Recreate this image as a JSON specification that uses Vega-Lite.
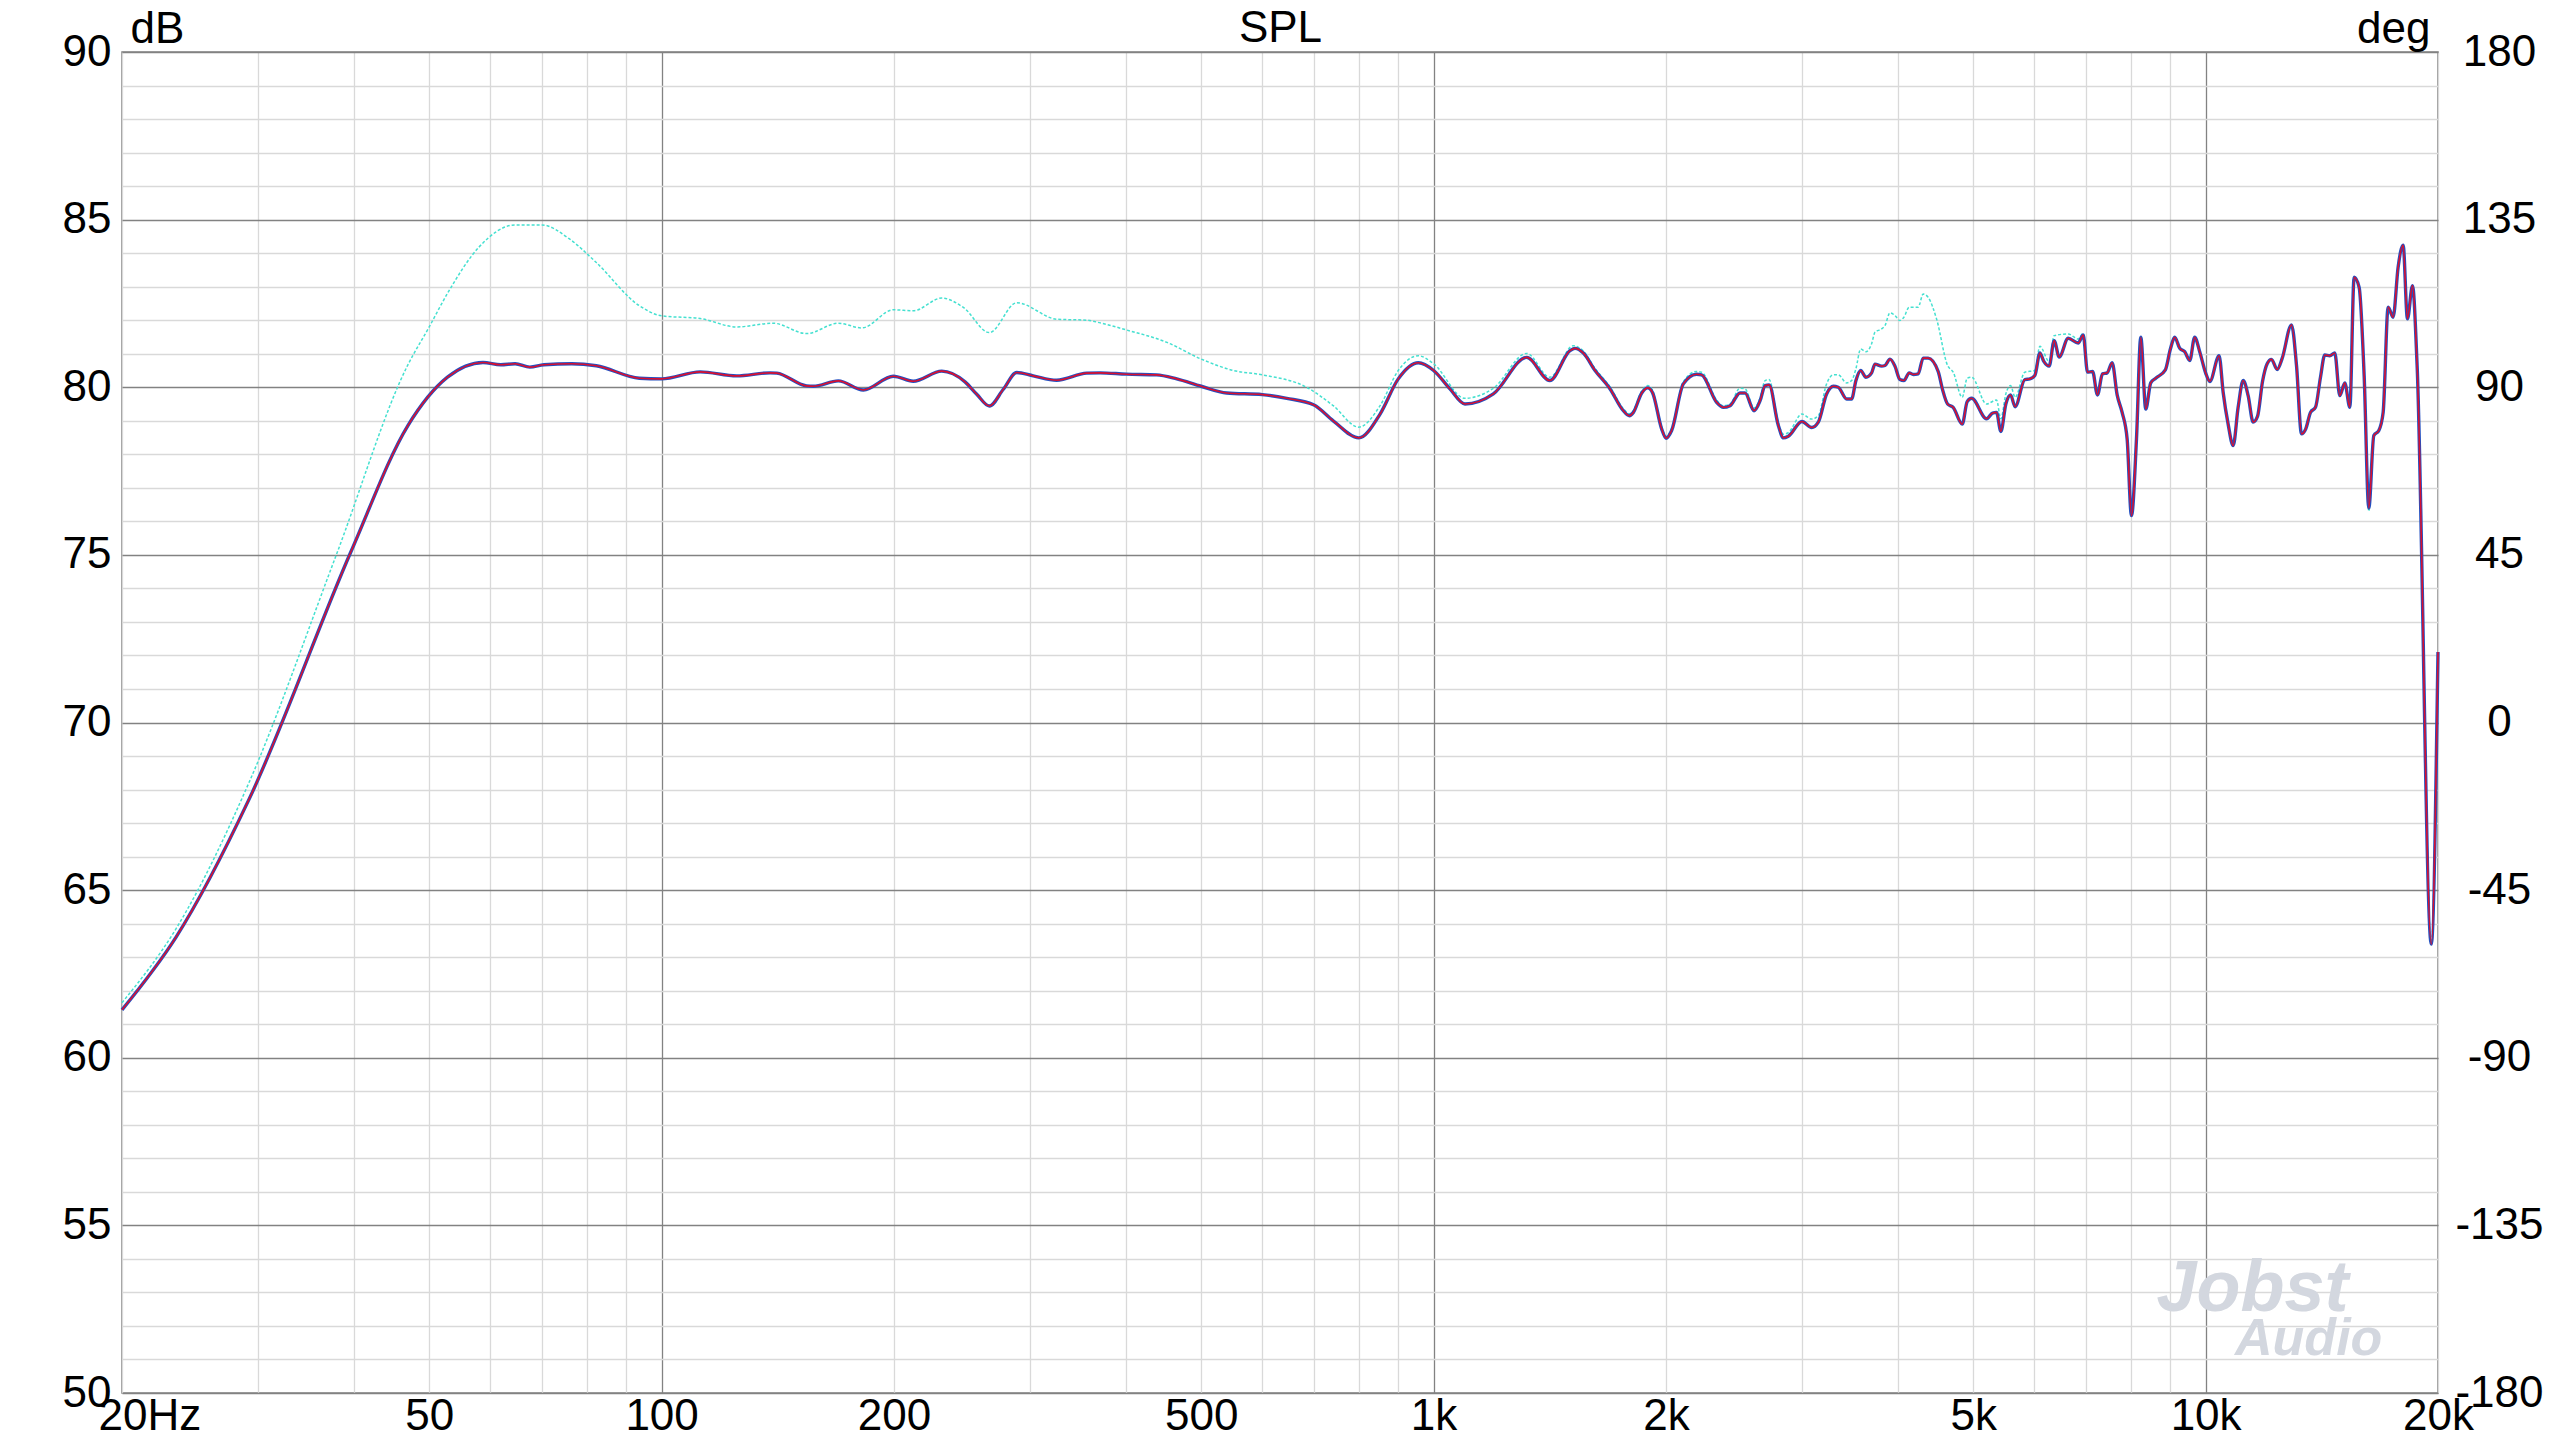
{
  "$schema": "https://vega.github.io/schema/vega-lite/v6.json",
  "width": 2316,
  "height": 1341,
  "autosize": {"type": "none"},
  "padding": {"left": 122, "top": 52, "right": 116, "bottom": 42},
  "background": "white",
  "config": {
    "font": "Liberation Sans",
    "view": {"stroke": "#808080", "strokeWidth": 1.5},
    "axis": {
      "labelFont": "Liberation Sans",
      "labelFontSize": 44,
      "labelColor": "black",
      "titleFont": "Liberation Sans",
      "titleFontSize": 44,
      "titleFontWeight": "normal",
      "titleColor": "black"
    }
  },
  "datasets": {
    "main": [
      {"freq": 20, "db": 61.43}, {"freq": 23.5, "db": 63.6}, {"freq": 29.2, "db": 67.7},
      {"freq": 39.6, "db": 75.1}, {"freq": 46.9, "db": 78.85}, {"freq": 52.8, "db": 80.3},
      {"freq": 58.7, "db": 80.74}, {"freq": 61.9, "db": 80.67}, {"freq": 64.6, "db": 80.7},
      {"freq": 67.5, "db": 80.6}, {"freq": 70.4, "db": 80.67}, {"freq": 76.5, "db": 80.7},
      {"freq": 82.3, "db": 80.64}, {"freq": 93.6, "db": 80.27}, {"freq": 100, "db": 80.25},
      {"freq": 112.2, "db": 80.46}, {"freq": 125.1, "db": 80.34}, {"freq": 138.2, "db": 80.43},
      {"freq": 141, "db": 80.42}, {"freq": 154.1, "db": 80.04}, {"freq": 157.2, "db": 80.03},
      {"freq": 169.4, "db": 80.19}, {"freq": 182.5, "db": 79.92}, {"freq": 199.6, "db": 80.33},
      {"freq": 211.8, "db": 80.18}, {"freq": 230.6, "db": 80.48}, {"freq": 247.2, "db": 80.16},
      {"freq": 256, "db": 79.79}, {"freq": 265.8, "db": 79.44}, {"freq": 277.1, "db": 79.94},
      {"freq": 288.4, "db": 80.44}, {"freq": 303, "db": 80.34}, {"freq": 324.9, "db": 80.21},
      {"freq": 355.3, "db": 80.42}, {"freq": 369.9, "db": 80.43}, {"freq": 400, "db": 80.39},
      {"freq": 437.7, "db": 80.37}, {"freq": 464.8, "db": 80.25}, {"freq": 500, "db": 80.03},
      {"freq": 539.6, "db": 79.83}, {"freq": 600, "db": 79.78}, {"freq": 645.3, "db": 79.67},
      {"freq": 700, "db": 79.47}, {"freq": 741.3, "db": 79.0}, {"freq": 800, "db": 78.49},
      {"freq": 852.4, "db": 79.2}, {"freq": 900, "db": 80.25}, {"freq": 955.5, "db": 80.73},
      {"freq": 1000, "db": 80.5}, {"freq": 1050, "db": 79.95}, {"freq": 1098, "db": 79.5},
      {"freq": 1195, "db": 79.8}, {"freq": 1320, "db": 80.89}, {"freq": 1414, "db": 80.2},
      {"freq": 1502, "db": 81.09}, {"freq": 1524.5, "db": 81.16}, {"freq": 1563, "db": 81.02},
      {"freq": 1618.6, "db": 80.5}, {"freq": 1692.7, "db": 79.95}, {"freq": 1761, "db": 79.3},
      {"freq": 1793, "db": 79.15}, {"freq": 1814.6, "db": 79.25}, {"freq": 1860.4, "db": 79.83},
      {"freq": 1894, "db": 79.98}, {"freq": 1922, "db": 79.83}, {"freq": 1974, "db": 78.76},
      {"freq": 2000, "db": 78.48}, {"freq": 2034, "db": 78.71}, {"freq": 2106, "db": 80.1},
      {"freq": 2191, "db": 80.39}, {"freq": 2224, "db": 80.37}, {"freq": 2326, "db": 79.55},
      {"freq": 2373, "db": 79.4}, {"freq": 2421, "db": 79.45}, {"freq": 2494, "db": 79.83},
      {"freq": 2532, "db": 79.83}, {"freq": 2601, "db": 79.3}, {"freq": 2648, "db": 79.6},
      {"freq": 2688, "db": 80.05}, {"freq": 2720, "db": 80.07}, {"freq": 2796, "db": 78.86},
      {"freq": 2839, "db": 78.49}, {"freq": 2881, "db": 78.54}, {"freq": 3000, "db": 78.98},
      {"freq": 3088, "db": 78.8}, {"freq": 3150, "db": 78.96}, {"freq": 3229, "db": 79.8},
      {"freq": 3294, "db": 80.03}, {"freq": 3343, "db": 80.0}, {"freq": 3428, "db": 79.65},
      {"freq": 3479, "db": 79.65}, {"freq": 3524, "db": 80.2}, {"freq": 3574, "db": 80.5},
      {"freq": 3631, "db": 80.3}, {"freq": 3693, "db": 80.43}, {"freq": 3730, "db": 80.69},
      {"freq": 3805, "db": 80.63}, {"freq": 3843, "db": 80.65}, {"freq": 3901, "db": 80.84},
      {"freq": 3959, "db": 80.63}, {"freq": 4018, "db": 80.23}, {"freq": 4066, "db": 80.2},
      {"freq": 4131, "db": 80.43}, {"freq": 4181, "db": 80.38}, {"freq": 4243, "db": 80.4},
      {"freq": 4307, "db": 80.87}, {"freq": 4372, "db": 80.87}, {"freq": 4504, "db": 80.47},
      {"freq": 4563, "db": 79.93}, {"freq": 4632, "db": 79.5}, {"freq": 4710, "db": 79.4},
      {"freq": 4839, "db": 78.9}, {"freq": 4911, "db": 79.57}, {"freq": 4976, "db": 79.67},
      {"freq": 5203, "db": 79.06}, {"freq": 5297, "db": 79.23}, {"freq": 5360, "db": 79.25},
      {"freq": 5430, "db": 78.68}, {"freq": 5511, "db": 79.5}, {"freq": 5589, "db": 79.77},
      {"freq": 5666, "db": 79.42}, {"freq": 5832, "db": 80.23}, {"freq": 5920, "db": 80.25},
      {"freq": 6009, "db": 80.35}, {"freq": 6100, "db": 81.02}, {"freq": 6172, "db": 80.77},
      {"freq": 6271, "db": 80.63}, {"freq": 6366, "db": 81.39}, {"freq": 6462, "db": 80.9},
      {"freq": 6637, "db": 81.46}, {"freq": 6838, "db": 81.32}, {"freq": 6942, "db": 81.56},
      {"freq": 7032, "db": 80.45}, {"freq": 7138, "db": 80.47}, {"freq": 7243, "db": 79.77},
      {"freq": 7352, "db": 80.4}, {"freq": 7456, "db": 80.43}, {"freq": 7567, "db": 80.73},
      {"freq": 7681, "db": 79.77}, {"freq": 7796, "db": 79.25}, {"freq": 7913, "db": 78.46},
      {"freq": 8016, "db": 76.17}, {"freq": 8137, "db": 78.46}, {"freq": 8242, "db": 81.49},
      {"freq": 8366, "db": 79.35}, {"freq": 8490, "db": 80.13}, {"freq": 8618, "db": 80.27},
      {"freq": 8869, "db": 80.52}, {"freq": 9003, "db": 81.14}, {"freq": 9120, "db": 81.49},
      {"freq": 9258, "db": 81.16}, {"freq": 9396, "db": 81.06}, {"freq": 9538, "db": 80.8},
      {"freq": 9680, "db": 81.49}, {"freq": 9826, "db": 81.06}, {"freq": 10000, "db": 80.43},
      {"freq": 10126, "db": 80.17}, {"freq": 10411, "db": 80.94}, {"freq": 10537, "db": 79.85},
      {"freq": 10695, "db": 78.9}, {"freq": 10856, "db": 78.26}, {"freq": 11019, "db": 79.4},
      {"freq": 11185, "db": 80.2}, {"freq": 11353, "db": 79.75}, {"freq": 11524, "db": 78.96},
      {"freq": 11674, "db": 79.13}, {"freq": 11850, "db": 80.17}, {"freq": 12015, "db": 80.7},
      {"freq": 12171, "db": 80.83}, {"freq": 12380, "db": 80.53}, {"freq": 12565, "db": 80.86},
      {"freq": 12920, "db": 81.86}, {"freq": 13114, "db": 80.65}, {"freq": 13312, "db": 78.61},
      {"freq": 13482, "db": 78.76}, {"freq": 13673, "db": 79.25}, {"freq": 13878, "db": 79.4},
      {"freq": 14087, "db": 80.3}, {"freq": 14267, "db": 80.96}, {"freq": 14482, "db": 80.94},
      {"freq": 14700, "db": 81.02}, {"freq": 14922, "db": 79.75}, {"freq": 15146, "db": 80.13},
      {"freq": 15375, "db": 79.4}, {"freq": 15574, "db": 83.28}, {"freq": 15808, "db": 82.98},
      {"freq": 16046, "db": 80.35}, {"freq": 16270, "db": 76.4}, {"freq": 16516, "db": 78.56},
      {"freq": 16765, "db": 78.71}, {"freq": 16982, "db": 79.25}, {"freq": 17238, "db": 82.39},
      {"freq": 17494, "db": 82.09}, {"freq": 17757, "db": 83.58}, {"freq": 18024, "db": 84.24},
      {"freq": 18258, "db": 82.04}, {"freq": 18533, "db": 83.03}, {"freq": 18792, "db": 80.65},
      {"freq": 19603, "db": 63.39}, {"freq": 20000, "db": 72.1}
    ],
    "alt": [
      {"freq": 20, "db": 61.64}, {"freq": 23.5, "db": 63.85}, {"freq": 29.2, "db": 68.2},
      {"freq": 37.9, "db": 75.0}, {"freq": 46.9, "db": 80.66}, {"freq": 50, "db": 81.8},
      {"freq": 52.8, "db": 82.8}, {"freq": 58, "db": 84.18}, {"freq": 64.6, "db": 84.84},
      {"freq": 70, "db": 84.84}, {"freq": 75.9, "db": 84.43}, {"freq": 82.3, "db": 83.72},
      {"freq": 93.6, "db": 82.43}, {"freq": 100, "db": 82.13}, {"freq": 112.2, "db": 82.05},
      {"freq": 125.1, "db": 81.8}, {"freq": 139.5, "db": 81.91}, {"freq": 154.1, "db": 81.6},
      {"freq": 169.4, "db": 81.91}, {"freq": 181.8, "db": 81.77}, {"freq": 199.6, "db": 82.31},
      {"freq": 211.8, "db": 82.28}, {"freq": 230.6, "db": 82.66}, {"freq": 246, "db": 82.38},
      {"freq": 265.8, "db": 81.63}, {"freq": 288.4, "db": 82.52}, {"freq": 324.9, "db": 82.03},
      {"freq": 355.3, "db": 82.0}, {"freq": 370, "db": 81.92}, {"freq": 400, "db": 81.71},
      {"freq": 451.3, "db": 81.34}, {"freq": 500, "db": 80.84}, {"freq": 550.5, "db": 80.5},
      {"freq": 600, "db": 80.37}, {"freq": 684.6, "db": 80.0}, {"freq": 741.3, "db": 79.45},
      {"freq": 800, "db": 78.81}, {"freq": 852.4, "db": 79.45}, {"freq": 900, "db": 80.5},
      {"freq": 955.5, "db": 80.94}, {"freq": 1000, "db": 80.7}, {"freq": 1098, "db": 79.67},
      {"freq": 1195, "db": 79.97}, {"freq": 1320, "db": 81.01}, {"freq": 1414, "db": 80.3},
      {"freq": 1517, "db": 81.24}, {"freq": 1563, "db": 81.08}, {"freq": 1618.6, "db": 80.56},
      {"freq": 1692.7, "db": 80.01}, {"freq": 1761, "db": 79.36}, {"freq": 1793, "db": 79.21},
      {"freq": 1814.6, "db": 79.31}, {"freq": 1860.4, "db": 79.89}, {"freq": 1894, "db": 80.05},
      {"freq": 1922, "db": 79.9}, {"freq": 1974, "db": 78.82}, {"freq": 2000, "db": 78.53},
      {"freq": 2034, "db": 78.77}, {"freq": 2106, "db": 80.16}, {"freq": 2191, "db": 80.47},
      {"freq": 2224, "db": 80.45}, {"freq": 2326, "db": 79.62}, {"freq": 2373, "db": 79.45},
      {"freq": 2421, "db": 79.5}, {"freq": 2494, "db": 79.97}, {"freq": 2532, "db": 79.95},
      {"freq": 2601, "db": 79.38}, {"freq": 2648, "db": 79.68}, {"freq": 2688, "db": 80.2},
      {"freq": 2720, "db": 80.23}, {"freq": 2796, "db": 78.95}, {"freq": 2839, "db": 78.6},
      {"freq": 2881, "db": 78.65}, {"freq": 3000, "db": 79.2}, {"freq": 3088, "db": 79.05},
      {"freq": 3150, "db": 79.15}, {"freq": 3229, "db": 80.1}, {"freq": 3294, "db": 80.37},
      {"freq": 3343, "db": 80.37}, {"freq": 3428, "db": 80.13}, {"freq": 3479, "db": 80.2},
      {"freq": 3524, "db": 80.55}, {"freq": 3574, "db": 81.14}, {"freq": 3631, "db": 81.06},
      {"freq": 3693, "db": 81.3}, {"freq": 3730, "db": 81.64}, {"freq": 3805, "db": 81.74},
      {"freq": 3843, "db": 81.84}, {"freq": 3901, "db": 82.22}, {"freq": 3959, "db": 82.14},
      {"freq": 4018, "db": 81.99}, {"freq": 4066, "db": 82.09}, {"freq": 4131, "db": 82.39},
      {"freq": 4243, "db": 82.39}, {"freq": 4307, "db": 82.78}, {"freq": 4372, "db": 82.68},
      {"freq": 4482, "db": 82.04}, {"freq": 4632, "db": 80.65}, {"freq": 4710, "db": 80.45},
      {"freq": 4839, "db": 79.7}, {"freq": 4911, "db": 80.27}, {"freq": 4976, "db": 80.3},
      {"freq": 5203, "db": 79.5}, {"freq": 5360, "db": 79.62}, {"freq": 5430, "db": 79.06},
      {"freq": 5511, "db": 79.8}, {"freq": 5589, "db": 80.05}, {"freq": 5666, "db": 79.7},
      {"freq": 5832, "db": 80.45}, {"freq": 6009, "db": 80.5}, {"freq": 6100, "db": 81.22},
      {"freq": 6271, "db": 80.77}, {"freq": 6366, "db": 81.54}, {"freq": 6637, "db": 81.59},
      {"freq": 6838, "db": 81.44}, {"freq": 6942, "db": 81.61}, {"freq": 7032, "db": 80.45},
      {"freq": 7138, "db": 80.47}, {"freq": 7243, "db": 79.77}, {"freq": 7352, "db": 80.4},
      {"freq": 7456, "db": 80.43}, {"freq": 7567, "db": 80.73}, {"freq": 7681, "db": 79.77},
      {"freq": 7796, "db": 79.25}, {"freq": 7913, "db": 78.46}, {"freq": 8016, "db": 76.17},
      {"freq": 8137, "db": 78.46}, {"freq": 8242, "db": 81.49}, {"freq": 8366, "db": 79.35},
      {"freq": 8490, "db": 80.13}, {"freq": 8618, "db": 80.27}, {"freq": 8869, "db": 80.52},
      {"freq": 9003, "db": 81.14}, {"freq": 9120, "db": 81.49}, {"freq": 9258, "db": 81.16},
      {"freq": 9396, "db": 81.06}, {"freq": 9538, "db": 80.8}, {"freq": 9680, "db": 81.49},
      {"freq": 9826, "db": 81.06}, {"freq": 10000, "db": 80.43}, {"freq": 10126, "db": 80.17},
      {"freq": 10411, "db": 80.94}, {"freq": 10537, "db": 79.85}, {"freq": 10695, "db": 78.9},
      {"freq": 10856, "db": 78.26}, {"freq": 11019, "db": 79.4}, {"freq": 11185, "db": 80.2},
      {"freq": 11353, "db": 79.75}, {"freq": 11524, "db": 78.96}, {"freq": 11674, "db": 79.13},
      {"freq": 11850, "db": 80.17}, {"freq": 12015, "db": 80.7}, {"freq": 12171, "db": 80.83},
      {"freq": 12380, "db": 80.53}, {"freq": 12565, "db": 80.86}, {"freq": 12920, "db": 81.86},
      {"freq": 13114, "db": 80.65}, {"freq": 13312, "db": 78.61}, {"freq": 13482, "db": 78.76},
      {"freq": 13673, "db": 79.25}, {"freq": 13878, "db": 79.4}, {"freq": 14087, "db": 80.3},
      {"freq": 14267, "db": 80.96}, {"freq": 14482, "db": 80.94}, {"freq": 14700, "db": 81.02},
      {"freq": 14922, "db": 79.75}, {"freq": 15146, "db": 80.13}, {"freq": 15375, "db": 79.4},
      {"freq": 15574, "db": 83.28}, {"freq": 15808, "db": 82.98}, {"freq": 16046, "db": 80.35},
      {"freq": 16270, "db": 76.3}, {"freq": 16516, "db": 78.56}, {"freq": 16765, "db": 78.71},
      {"freq": 16982, "db": 79.25}, {"freq": 17238, "db": 82.39}, {"freq": 17494, "db": 82.09},
      {"freq": 17757, "db": 83.58}, {"freq": 18024, "db": 84.24}, {"freq": 18258, "db": 82.04},
      {"freq": 18533, "db": 83.03}, {"freq": 18792, "db": 80.65}, {"freq": 19603, "db": 63.39},
      {"freq": 20000, "db": 72.1}
    ],
    "phase": [
      {"freq": 20, "deg": -180},
      {"freq": 20000, "deg": 180}
    ],
    "logo": [
      {"freq": 11500, "db": 53.1, "label": "Jobst"},
      {"freq": 13600, "db": 51.6, "label": "Audio"}
    ]
  },
  "layer": [
    {
      "encoding": {
        "x": {
          "field": "freq",
          "type": "quantitative",
          "scale": {"type": "log", "domain": [20, 20000], "nice": false},
          "axis": {
            "title": null,
            "values": [20, 30, 40, 50, 60, 70, 80, 90, 100, 200, 300, 400, 500, 600, 700, 800, 900, 1000, 2000, 3000, 4000, 5000, 6000, 7000, 8000, 9000, 10000, 20000],
            "grid": true,
            "gridColor": {"condition": {"test": "datum.value === 100 || datum.value === 1000 || datum.value === 10000", "value": "#828282"}, "value": "#d9d9d9"},
            "gridWidth": 1.3,
            "ticks": false,
            "tickSize": 0,
            "domain": false,
            "labelExpr": "indexof([20, 50, 100, 200, 500, 1000, 2000, 5000, 10000, 20000], datum.value) < 0 ? '' : datum.value === 20 ? '20Hz' : datum.value >= 1000 ? (datum.value / 1000) + 'k' : '' + datum.value",
            "labelAlign": {"condition": {"test": "datum.value === 20", "value": "left"}, "value": "center"},
            "labelOffset": {"condition": {"test": "datum.value === 20", "value": -24}, "value": 0},
            "labelBaseline": "top",
            "labelPadding": 1,
            "labelFlush": false,
            "labelOverlap": false,
            "labelBound": false
          }
        },
        "y": {
          "field": "db",
          "type": "quantitative",
          "scale": {"domain": [50, 90], "nice": false, "zero": false},
          "axis": {
            "values": [50, 51, 52, 53, 54, 55, 56, 57, 58, 59, 60, 61, 62, 63, 64, 65, 66, 67, 68, 69, 70, 71, 72, 73, 74, 75, 76, 77, 78, 79, 80, 81, 82, 83, 84, 85, 86, 87, 88, 89, 90],
            "grid": true,
            "gridColor": {"condition": {"test": "datum.value % 5 === 0", "value": "#828282"}, "value": "#d9d9d9"},
            "gridWidth": 1.3,
            "ticks": false,
            "tickSize": 0,
            "domain": false,
            "labelExpr": "datum.value % 5 === 0 ? datum.label : ''",
            "labelPadding": 11,
            "labelOverlap": false,
            "labelFlush": false,
            "title": "dB",
            "titleAngle": 0,
            "titleX": 8,
            "titleY": -10,
            "titleAlign": "left",
            "titleBaseline": "alphabetic"
          }
        }
      },
      "layer": [
        {
          "data": {"name": "alt"},
          "mark": {"type": "line", "color": "#45e0d0", "strokeWidth": 1.5, "strokeDash": [3, 2], "interpolate": "monotone"}
        },
        {
          "data": {"name": "main"},
          "mark": {"type": "line", "color": "#2450c0", "strokeWidth": 3.4, "interpolate": "monotone"}
        },
        {
          "data": {"name": "main"},
          "mark": {"type": "line", "color": "#d81030", "strokeWidth": 1.6, "interpolate": "monotone"}
        },
        {
          "data": {"name": "logo"},
          "mark": {"type": "text", "font": "Liberation Sans", "fontStyle": "italic", "fontWeight": "bold", "color": "#d3d7df"},
          "encoding": {
            "text": {"field": "label", "type": "nominal"},
            "size": {"condition": {"test": "datum.label === 'Jobst'", "value": 72}, "value": 52}
          }
        }
      ]
    },
    {
      "data": {"name": "phase"},
      "mark": {"type": "point", "opacity": 0},
      "encoding": {
        "x": {
          "field": "freq",
          "type": "quantitative",
          "scale": {"type": "log", "domain": [20, 20000], "nice": false},
          "axis": {
            "orient": "top",
            "labels": false,
            "ticks": false,
            "domain": false,
            "grid": false,
            "title": "SPL",
            "titleX": 1158,
            "titleY": -11,
            "titleAlign": "center",
            "titleBaseline": "alphabetic"
          }
        },
        "y": {
          "field": "deg",
          "type": "quantitative",
          "scale": {"domain": [-180, 180], "nice": false, "zero": false},
          "axis": {
            "orient": "right",
            "values": [-180, -135, -90, -45, 0, 45, 90, 135, 180],
            "grid": false,
            "ticks": false,
            "tickSize": 0,
            "domain": false,
            "labelExpr": "'' + datum.value",
            "labelAlign": "center",
            "labelPadding": 61,
            "labelOverlap": false,
            "labelFlush": false,
            "title": "deg",
            "titleAngle": 0,
            "titleX": -8,
            "titleY": -10,
            "titleAlign": "right",
            "titleBaseline": "alphabetic"
          }
        }
      }
    }
  ],
  "resolve": {"scale": {"y": "independent"}, "axis": {"x": "independent"}}
}
